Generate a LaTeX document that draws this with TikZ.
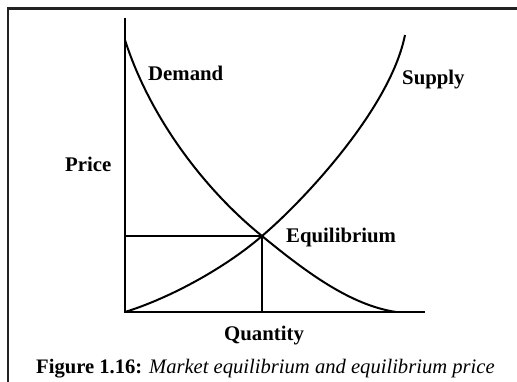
\documentclass[tikz,border=0pt]{standalone}
\usepackage{fontspec}
\setmainfont{Liberation Serif}
\usetikzlibrary{positioning}
\definecolor{frgrey}{HTML}{222222}
\tikzset{
  axis/.style ={line width=2pt, draw=black, line join=miter},
  crv/.style  ={line width=2pt, draw=black},
  guide/.style={line width=1.8pt, draw=black},
  frm/.style  ={line width=2.8pt, draw=frgrey, line join=miter},
  lab/.style  ={font=\fontsize{20.8}{24}\selectfont\bfseries, inner sep=0pt, anchor=base west},
  captxt/.style={font=\fontsize{20.6}{24}\selectfont, inner sep=0pt, anchor=base west}
}

\begin{document}
\begin{tikzpicture}[x=1pt,y=-1pt]
  \useasboundingbox (0,0) rectangle (517,382);
  % frame
  \coordinate (fb) at (8,392);
  \coordinate (fc) at (8,8.5);
  \coordinate (fr) at (527,8.5);
  \draw[frm] (fb) -- (fc) -- (fr);
  % axes and guides
  \coordinate (O) at (125,312);
  \coordinate (ytop) at (125,18);
  \coordinate (xend) at (425,312);
  \coordinate (E) at (262,236);
  \coordinate (Ey) at (125,236);
  \coordinate (Ex) at (262,312);
  \draw[axis] (ytop) -- (O) -- (xend);
  \draw[guide] (Ey) -- (E) -- (Ex);
  % curves
  \coordinate (d0) at (125,40);
  \coordinate (d1) at (396,312);
  \coordinate (s1) at (405,35);
  \draw[crv] (d0) .. controls (150,118) and (205,190) .. (E)
                  .. controls (306,272) and (350,305) .. (d1);
  \draw[crv] (O) .. controls (170,298) and (225,268) .. (E)
                 .. controls (300,204) and (390,110) .. (s1);
  % labels
  \node[lab] (dem) at (148,81) {Demand};
  \node[lab] (sup) at (402,85) {Supply};
  \node[lab] (pri) at (65,172) {Price};
  \node[lab] (equ) at (286,243) {Equilibrium};
  \node[lab] (qty) at (224,340) {Quantity};
  \node[captxt] (cpt) at (36,373) {\textbf{Figure 1.16:} \textit{Market equilibrium and equilibrium price}};
\end{tikzpicture}
\end{document}
